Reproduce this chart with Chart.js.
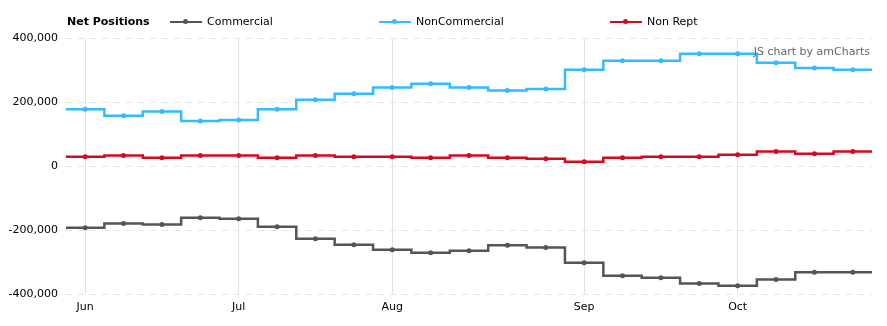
<!DOCTYPE html>
<html>
<head>
<meta charset="utf-8">
<script src="https://cdn.jsdelivr.net/npm/chart.js@4"></script>
<style>
  html, body { margin: 0; padding: 0; background: #fff; }
  #wrap { position: relative; width: 887px; height: 326px; font-family: "DejaVu Sans", Verdana, sans-serif; font-size: 11px; color: #000; }
  #legend { position: absolute; left: 0; top: 15px; height: 14px; width: 887px; }
  #legend .title { position: absolute; left: 67px; top: 0; font-weight: bold; line-height: 14px; }
  #legend .item { position: absolute; top: 0; height: 14px; line-height: 14px; }
  #legend .item .ico { position: absolute; left: 0; top: 6px; width: 32px; height: 2px; }
  #legend .item .dot { position: absolute; left: 13px; top: -2px; width: 5px; height: 5px; border-radius: 50%; }
  #legend .item .txt { position: absolute; left: 37px; top: 0; white-space: nowrap; }
  #credit { position: absolute; right: 17px; top: 45px; color: #666; white-space: nowrap; }
  canvas { position: absolute; left: 0; top: 0; }
</style>
</head>
<body>
<div id="wrap">
  <canvas id="chart" width="887" height="326"></canvas>
  <div id="legend"><span class="title">Net Positions</span></div>
  <div id="credit">JS chart by amCharts</div>
</div>
<script>
// weekly report dates
const dates = [
  '2023-06-06', '2023-06-13', '2023-06-20', '2023-06-27',
  '2023-07-04', '2023-07-11', '2023-07-18', '2023-07-25',
  '2023-08-01', '2023-08-08', '2023-08-15', '2023-08-22', '2023-08-29',
  '2023-09-05', '2023-09-12', '2023-09-19', '2023-09-26',
  '2023-10-03', '2023-10-10', '2023-10-17', '2023-10-24'
];
const monthNames = ['Jan', 'Feb', 'Mar', 'Apr', 'May', 'Jun', 'Jul', 'Aug', 'Sep', 'Oct', 'Nov', 'Dec'];

const commercial = [
  -193000, -180000, -183000, -162000, -165000, -190000, -227000, -246000,
  -262000, -271000, -265000, -248000, -255000, -302000, -343000, -349000,
  -367000, -374000, -355000, -332000, -332000
];
const nonCommercial = [
  177000, 157000, 170000, 141000, 144000, 177000, 207000, 226000,
  245000, 257000, 245000, 236000, 241000, 301000, 329000, 329000,
  351000, 351000, 323000, 306000, 301000
];
const nonRept = [
  29000, 33000, 26000, 33000, 33000, 26000, 33000, 29000,
  29000, 26000, 33000, 26000, 23000, 13000, 26000, 29000,
  29000, 35000, 45000, 38000, 45000
];
const yTicks = [-400000, -200000, 0, 200000, 400000];

const seriesNames = ['Commercial', 'NonCommercial', 'Non Rept'];
const seriesColors = ['#555555', '#33bbff', '#d40b1f'];
const legendLeft = [170, 379, 610];

function isMonthStart(i) {
  if (i === 0) return true;
  return dates[i].slice(5, 7) !== dates[i - 1].slice(5, 7);
}

// extend the stepped line to the plot edges
const edgeSteps = {
  id: 'edgeSteps',
  beforeDatasetsDraw(chart) {
    const ctx = chart.ctx;
    const area = chart.chartArea;
    chart.data.datasets.forEach((ds, i) => {
      const pts = chart.getDatasetMeta(i).data;
      if (!pts.length) return;
      const first = pts[0], last = pts[pts.length - 1];
      ctx.save();
      ctx.strokeStyle = ds.borderColor;
      ctx.lineWidth = ds.borderWidth;
      ctx.beginPath();
      ctx.moveTo(area.left, first.y);
      ctx.lineTo(first.x, first.y);
      ctx.moveTo(last.x, last.y);
      ctx.lineTo(area.right, last.y);
      ctx.stroke();
      ctx.restore();
    });
  }
};

const datasets = [commercial, nonCommercial, nonRept].map((values, i) => ({
  label: seriesNames[i],
  data: values,
  borderColor: seriesColors[i],
  backgroundColor: seriesColors[i],
  borderWidth: 2.5,
  stepped: 'middle',
  pointRadius: 2.5,
  pointBorderWidth: 0,
  pointHoverRadius: 3
}));

const chart = new Chart(document.getElementById('chart'), {
  type: 'line',
  data: { labels: dates, datasets: datasets },
  plugins: [edgeSteps],
  options: {
    responsive: false,
    animation: false,
    layout: { padding: { top: 38, right: 15, left: 0, bottom: 0 } },
    plugins: {
      legend: { display: false },
      tooltip: { enabled: false }
    },
    scales: {
      x: {
        type: 'category',
        offset: true,
        border: { display: false },
        grid: {
          drawTicks: false,
          color: (c) => (c.index !== undefined && isMonthStart(c.index)) ? '#e3e3e3' : 'rgba(0,0,0,0)'
        },
        ticks: {
          autoSkip: false,
          maxRotation: 0,
          padding: 7,
          color: '#000',
          font: { family: '"DejaVu Sans", Verdana, sans-serif', size: 11 },
          callback: (v, i) => isMonthStart(i) ? monthNames[parseInt(dates[i].slice(5, 7), 10) - 1] : ''
        },
        afterFit: (s) => { s.height = 32; }
      },
      y: {
        min: -400000,
        max: 400000,
        border: { display: false, dash: [6, 6] },
        afterBuildTicks: (s) => { s.ticks = yTicks.map(v => ({ value: v })); },
        grid: {
          drawTicks: false,
          color: '#e6e6e6'
        },
        ticks: {
          padding: 8,
          color: '#000',
          font: { family: '"DejaVu Sans", Verdana, sans-serif', size: 11 },
          callback: (v) => v.toLocaleString('en-US')
        },
        afterFit: (s) => { s.width = 66; }
      }
    }
  }
});

// html legend built from the chart's datasets
const legend = document.getElementById('legend');
chart.data.datasets.forEach((ds, i) => {
  const item = document.createElement('div');
  item.className = 'item';
  item.style.left = legendLeft[i] + 'px';
  item.innerHTML = '<span class="ico" style="background:' + ds.borderColor + '"><span class="dot" style="background:' + ds.borderColor + '"></span></span><span class="txt">' + ds.label + '</span>';
  legend.appendChild(item);
});
</script>
</body>
</html>
